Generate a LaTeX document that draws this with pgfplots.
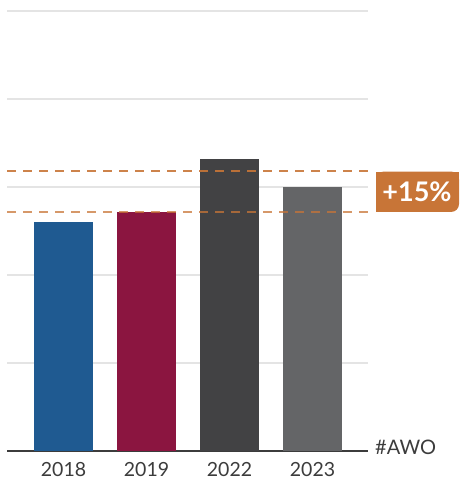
\documentclass[border=0pt]{standalone}
\usepackage{pgfplots}
\pgfplotsset{compat=1.18}
\usepackage{fontspec}
\setmainfont{Lato}
\definecolor{cA}{HTML}{1F5A91}
\definecolor{cB}{HTML}{8B1540}
\definecolor{cC}{HTML}{424244}
\definecolor{cD}{HTML}{646567}
\definecolor{awo}{HTML}{C87537}
\definecolor{txt}{HTML}{3C3C3C}
\definecolor{gridc}{HTML}{E4E4E4}
\begin{document}
\begin{tikzpicture}
\begin{axis}[
  name=ax,
  x=83pt, y=88pt,
  xmin=-0.681, xmax=3.669,
  ymin=0, ymax=5,
  clip=false,
  axis x line*=bottom,
  axis y line*=left,
  x axis line style={draw=txt, line width=2pt},
  y axis line style={draw=none},
  xtick={0,1,2,3},
  xticklabels={2018,2019,2022,2023},
  xtick style={draw=none},
  ytick={1,2,3,4,5},
  yticklabels={},
  ytick style={draw=none},
  ymajorgrids,
  grid style={draw=gridc, line width=1.3pt},
  /pgf/number format/assume math mode=true,
  xticklabel style={font=\fontsize{19.5}{20}\selectfont, text=txt, anchor=base, yshift=-25pt, inner sep=0pt},
]
\addplot[ybar, bar width=59pt, bar shift=0pt, fill=cA, draw=none] coordinates {(0,2.60)};
\addplot[ybar, bar width=59pt, bar shift=0pt, fill=cB, draw=none] coordinates {(1,2.716)};
\addplot[ybar, bar width=59pt, bar shift=0pt, fill=cC, draw=none] coordinates {(2,3.318)};
\addplot[ybar, bar width=59pt, bar shift=0pt, fill=cD, draw=none] coordinates {(3,3.0)};
\addplot[draw=awo, draw opacity=0.75, line width=1.4pt, dash pattern=on 9pt off 7pt, mark=none] coordinates {(-0.681,2.716) (3.669,2.716)};
\addplot[draw=awo, draw opacity=0.9, line width=1.6pt, dash pattern=on 9pt off 7pt, mark=none] coordinates {(-0.681,3.18) (3.669,3.18)};
\fill[awo, rounded corners=8pt] (axis cs:3.765,2.716) rectangle (axis cs:4.765,3.176);
\fill[awo] (axis cs:3.765,2.716) rectangle (axis cs:4.55,3.176);
\fill[awo] (axis cs:3.765,2.95) rectangle (axis cs:4.765,3.176);
\node[anchor=base, text=white, font=\bfseries\fontsize{27}{27}\selectfont, inner sep=0pt] at (axis cs:4.259,2.83) {+15\%};
\node[anchor=base west, text=txt, font=\fontsize{20}{20}\selectfont, inner sep=0pt] at (axis cs:3.753,-0.045) {\#AWO};
\end{axis}
\pgfresetboundingbox
\path[use as bounding box] ([shift={(-7pt,-28pt)}]ax.south west) rectangle ([shift={(452pt,451pt)}]ax.south west);
\end{tikzpicture}
\end{document}
